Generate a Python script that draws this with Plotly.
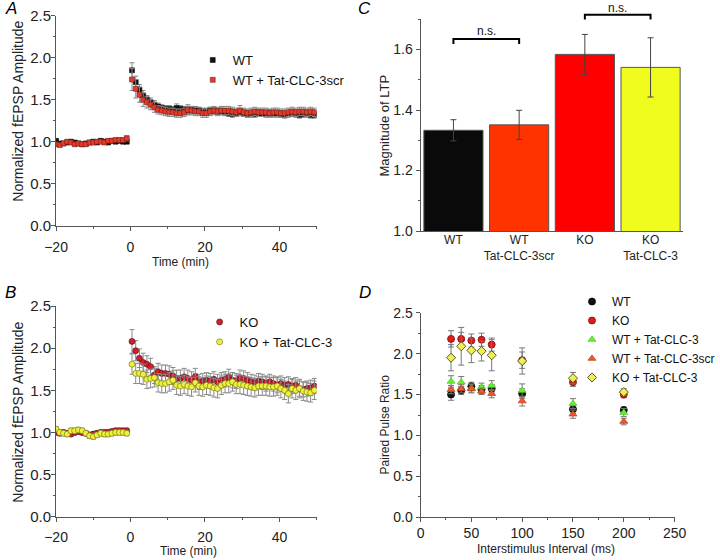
import plotly.graph_objects as go

# ---------------- Panel A / B time base ----------------
time_base = list(range(-20, 0))
time_post = [t + 0.4 for t in range(50)]
time_all = time_base + time_post

# Panel A
wt_base = [1.01, 0.98, 0.98, 0.99, 1.00, 0.99, 0.98, 0.97, 0.98, 0.99,
           1.00, 0.99, 1.01, 1.00, 0.99, 1.01, 1.00, 1.01, 1.00, 1.00]
wt_post = [1.85, 1.71, 1.62, 1.55, 1.50, 1.47, 1.44, 1.42, 1.40, 1.39,
           1.39, 1.38, 1.40, 1.39, 1.38, 1.37, 1.38, 1.38, 1.37, 1.36,
           1.36, 1.37, 1.37, 1.36, 1.36, 1.35, 1.34, 1.33, 1.34, 1.35,
           1.34, 1.33, 1.33, 1.33, 1.34, 1.34, 1.33, 1.34, 1.33, 1.33,
           1.33, 1.32, 1.33, 1.34, 1.33, 1.32, 1.33, 1.33, 1.32, 1.32]
wt_base_err = [0.02, 0.02, 0.02, 0.02, 0.02, 0.02, 0.02, 0.02, 0.02, 0.02,
               0.02, 0.02, 0.02, 0.02, 0.02, 0.02, 0.02, 0.02, 0.02, 0.02]
wt_post_err = [0.09, 0.07, 0.06, 0.06, 0.05, 0.05, 0.05, 0.04, 0.04, 0.04,
               0.04, 0.04, 0.05, 0.04, 0.04, 0.05, 0.04, 0.04, 0.04, 0.04,
               0.04, 0.04, 0.04, 0.04, 0.04, 0.04, 0.04, 0.04, 0.04, 0.04,
               0.04, 0.04, 0.04, 0.04, 0.04, 0.04, 0.04, 0.04, 0.04, 0.04,
               0.04, 0.04, 0.04, 0.04, 0.04, 0.04, 0.04, 0.04, 0.04, 0.04]
scr_base = [0.97, 0.96, 0.98, 1.00, 0.99, 0.97, 0.98, 0.97, 0.97, 0.99,
            0.99, 1.00, 1.00, 0.99, 1.01, 1.01, 1.02, 1.02, 1.02, 1.04]
scr_post = [1.74, 1.63, 1.56, 1.50, 1.47, 1.44, 1.41, 1.38, 1.37, 1.36,
            1.35, 1.35, 1.34, 1.34, 1.35, 1.38, 1.37, 1.36, 1.36, 1.34,
            1.34, 1.36, 1.37, 1.36, 1.37, 1.37, 1.37, 1.36, 1.35, 1.37,
            1.35, 1.34, 1.35, 1.36, 1.35, 1.35, 1.35, 1.34, 1.35, 1.35,
            1.34, 1.34, 1.35, 1.36, 1.35, 1.36, 1.36, 1.35, 1.36, 1.35]
scr_base_err = [0.02, 0.02, 0.02, 0.02, 0.02, 0.02, 0.02, 0.02, 0.02, 0.02,
                0.02, 0.02, 0.02, 0.02, 0.02, 0.02, 0.02, 0.02, 0.02, 0.03]
scr_post_err = [0.13, 0.11, 0.09, 0.08, 0.07, 0.06, 0.06, 0.05, 0.05, 0.05,
                0.05, 0.05, 0.05, 0.05, 0.05, 0.06, 0.05, 0.05, 0.05, 0.05,
                0.05, 0.05, 0.05, 0.05, 0.05, 0.05, 0.05, 0.05, 0.05, 0.06,
                0.05, 0.05, 0.05, 0.05, 0.05, 0.05, 0.05, 0.05, 0.05, 0.05,
                0.05, 0.05, 0.05, 0.05, 0.05, 0.05, 0.05, 0.05, 0.05, 0.05]

# Panel B
ko_base = [1.00, 0.99, 1.00, 0.99, 0.98, 1.00, 1.01, 1.00, 0.99, 0.97,
           0.98, 0.99, 1.00, 1.00, 1.00, 1.01, 1.02, 1.02, 1.02, 1.02]
ko_post = [2.08, 1.97, 1.88, 1.83, 1.81, 1.78, 1.68, 1.72, 1.70, 1.70,
           1.69, 1.67, 1.64, 1.64, 1.66, 1.64, 1.62, 1.66, 1.60, 1.61,
           1.62, 1.61, 1.63, 1.60, 1.62, 1.63, 1.66, 1.62, 1.61, 1.65,
           1.64, 1.62, 1.60, 1.59, 1.61, 1.60, 1.58, 1.60, 1.58, 1.56,
           1.58, 1.56, 1.57, 1.55, 1.56, 1.52, 1.51, 1.52, 1.53, 1.55]
ko_base_err = [0.03, 0.03, 0.03, 0.03, 0.03, 0.03, 0.03, 0.03, 0.03, 0.03,
               0.03, 0.03, 0.03, 0.03, 0.03, 0.03, 0.03, 0.03, 0.03, 0.03]
ko_post_err = [0.14, 0.12, 0.11, 0.11, 0.10, 0.10, 0.10, 0.10, 0.10, 0.10,
               0.10, 0.10, 0.10, 0.10, 0.10, 0.10, 0.10, 0.10, 0.09, 0.09,
               0.09, 0.09, 0.09, 0.09, 0.09, 0.09, 0.09, 0.09, 0.09, 0.09,
               0.09, 0.09, 0.09, 0.09, 0.09, 0.09, 0.09, 0.09, 0.09, 0.09,
               0.09, 0.09, 0.09, 0.09, 0.09, 0.09, 0.09, 0.09, 0.09, 0.09]
tat_base = [1.04, 1.00, 0.99, 0.98, 1.02, 1.02, 1.03, 1.02, 0.99, 0.96,
            0.95, 0.97, 0.99, 0.98, 0.98, 0.99, 1.00, 1.00, 1.00, 0.99]
tat_post = [1.81, 1.70, 1.70, 1.69, 1.63, 1.64, 1.65, 1.59, 1.58, 1.58,
            1.60, 1.62, 1.56, 1.55, 1.57, 1.55, 1.54, 1.59, 1.55, 1.54,
            1.56, 1.55, 1.53, 1.52, 1.56, 1.58, 1.58, 1.60, 1.57, 1.57,
            1.56, 1.55, 1.54, 1.53, 1.55, 1.55, 1.55, 1.54, 1.54, 1.55,
            1.52, 1.50, 1.46, 1.52, 1.50, 1.52, 1.49, 1.48, 1.47, 1.50]
tat_base_err = [0.03, 0.03, 0.03, 0.03, 0.03, 0.03, 0.03, 0.03, 0.03, 0.03,
                0.03, 0.03, 0.03, 0.03, 0.03, 0.03, 0.03, 0.03, 0.03, 0.03]
tat_post_err = [0.12, 0.12, 0.12, 0.12, 0.11, 0.11, 0.11, 0.11, 0.11, 0.11,
                0.11, 0.11, 0.11, 0.11, 0.11, 0.11, 0.11, 0.11, 0.11, 0.11,
                0.11, 0.11, 0.11, 0.11, 0.11, 0.11, 0.11, 0.11, 0.11, 0.11,
                0.11, 0.11, 0.11, 0.11, 0.11, 0.11, 0.11, 0.11, 0.11, 0.11,
                0.11, 0.11, 0.11, 0.11, 0.11, 0.11, 0.11, 0.11, 0.11, 0.11]

# Panel C
ltp_labels = ["WT", "WT<br>Tat-CLC-3scr", "KO", "KO<br>Tat-CLC-3"]
ltp_values = [1.333, 1.351, 1.584, 1.541]
ltp_errors = [0.035, 0.048, 0.066, 0.098]
ltp_colors = ["#0a0a0a", "#ff3300", "#ff0000", "#f0fc1e"]

# Panel D
isi = [30, 40, 50, 60, 70, 100, 150, 200]
ppr_wt = [1.50, 1.55, 1.60, 1.56, 1.57, 1.51, 1.32, 1.31]
ppr_wt_err = [0.07, 0.05, 0.05, 0.05, 0.05, 0.06, 0.05, 0.04]
ppr_ko = [2.18, 2.18, 2.16, 2.17, 2.11, 1.92, 1.65, 1.50]
ppr_ko_err = [0.10, 0.08, 0.08, 0.08, 0.08, 0.10, 0.05, 0.04]
ppr_wt_tat = [1.66, 1.65, 1.58, 1.59, 1.61, 1.55, 1.39, 1.28]
ppr_wt_tat_err = [0.07, 0.07, 0.05, 0.05, 0.06, 0.08, 0.06, 0.05]
ppr_wt_scr = [1.56, 1.57, 1.57, 1.54, 1.51, 1.42, 1.26, 1.17]
ppr_wt_scr_err = [0.05, 0.05, 0.05, 0.04, 0.05, 0.06, 0.05, 0.04]
ppr_ko_tat = [1.95, 2.09, 2.04, 2.03, 1.98, 1.91, 1.70, 1.53]
ppr_ko_tat_err = [0.16, 0.23, 0.15, 0.12, 0.19, 0.16, 0.07, 0.04]

FONT = "Liberation Sans, Arial, Helvetica, sans-serif"
AX = "#555555"
ERR = "#8a8a8a"
TXT = "#222222"
W, H = 720, 560

fig = go.Figure()


def err(vals, color=ERR, width=2.5):
    return dict(type="data", array=vals, visible=True, color=color,
                thickness=1, width=width)


# Panel A traces
fig.add_trace(go.Scatter(
    x=time_all, y=wt_base + wt_post, mode="markers", name="WT",
    marker=dict(symbol="square", size=5, color="#111111",
                line=dict(color="#000000", width=0.5)),
    error_y=err(wt_base_err + wt_post_err), xaxis="x", yaxis="y",
    legend="legend"))
fig.add_trace(go.Scatter(
    x=time_all, y=scr_base + scr_post, mode="markers", name="WT + Tat-CLC-3scr",
    marker=dict(symbol="square", size=5, color="#e5392b",
                line=dict(color="#5a1a10", width=0.5)),
    error_y=err(scr_base_err + scr_post_err), xaxis="x", yaxis="y",
    legend="legend"))

# Panel B traces
fig.add_trace(go.Scatter(
    x=time_all, y=ko_base + ko_post, mode="markers", name="KO",
    marker=dict(symbol="circle", size=6, color="#d21f2e",
                line=dict(color="#4a0a10", width=0.6)),
    error_y=err(ko_base_err + ko_post_err), xaxis="x3", yaxis="y3",
    legend="legend2"))
fig.add_trace(go.Scatter(
    x=time_all, y=tat_base + tat_post, mode="markers", name="KO + Tat-CLC-3",
    marker=dict(symbol="circle", size=6, color="#eef03c",
                line=dict(color="#6a6a10", width=0.6)),
    error_y=err(tat_base_err + tat_post_err), xaxis="x3", yaxis="y3",
    legend="legend2"))

# Panel C bars
fig.add_trace(go.Bar(
    x=list(range(len(ltp_values))), y=ltp_values, width=0.9,
    marker=dict(color=ltp_colors, line=dict(color="#555555", width=1)),
    error_y=dict(type="data", array=ltp_errors, visible=True, color="#444444",
                 thickness=1, width=3),
    xaxis="x2", yaxis="y2", showlegend=False))

# Panel D traces
d_series = [
    ("WT", ppr_wt, ppr_wt_err, "circle", "#111111", "#000000"),
    ("KO", ppr_ko, ppr_ko_err, "circle", "#e01b1b", "#7a0a0a"),
    ("WT + Tat-CLC-3", ppr_wt_tat, ppr_wt_tat_err, "triangle-up", "#66ee33", "#55cc22"),
    ("WT + Tat-CLC-3scr", ppr_wt_scr, ppr_wt_scr_err, "triangle-up", "#ec5a2c", "#c8401a"),
    ("KO + Tat-CLC-3", ppr_ko_tat, ppr_ko_tat_err, "diamond", "#eeee55", "#333300"),
]
for name, vals, errs, sym, col, lcol in d_series:
    fig.add_trace(go.Scatter(
        x=isi, y=vals, mode="markers", name=name,
        marker=dict(symbol=sym, size=7, color=col, line=dict(color=lcol, width=0.8)),
        error_y=err(errs, color="#777777", width=3), xaxis="x4", yaxis="y4",
        legend="legend3"))


def axis(domain, rng, dtick, minor_dtick, anchor, tsize=14, **kw):
    d = dict(domain=domain, range=rng, dtick=dtick, tick0=0, automargin=False,
             showline=True, linecolor=AX, linewidth=1, ticks="outside",
             ticklen=4, tickcolor=AX, tickwidth=1, showgrid=False,
             zeroline=False, anchor=anchor, title=dict(text=""),
             tickfont=dict(family=FONT, size=tsize, color=TXT))
    if minor_dtick:
        d["minor"] = dict(dtick=minor_dtick, ticks="outside", ticklen=2,
                          tickcolor=AX, showgrid=False)
    d.update(kw)
    return d


xA = [57 / W, 322 / W]
yA = [1 - 225.7 / H, 1 - 15.7 / H]
yB = [1 - 516.7 / H, 1 - 306 / H]
xC = [427.7 / W, 695 / W]
yC = [1 - 231 / H, 1 - 19.3 / H]
xD = [427.7 / W, 686 / W]
yD = [1 - 517.3 / H, 1 - 312.7 / H]

fig.update_layout(
    template="none",
    width=W, height=H, margin=dict(l=0, r=0, t=0, b=0, pad=0),
    paper_bgcolor="white", plot_bgcolor="white",
    font=dict(family=FONT, size=12, color=TXT),
    xaxis=axis(xA, [-20, 50], 20, 10, "y", tsize=14, tick0=-20, ticklabelstandoff=4),
    yaxis=axis(yA, [0, 2.5], 0.5, 0.25, "x", tsize=15, tickformat=".1f",
               ticklabelstandoff=-3),
    xaxis3=axis(xA, [-20, 50], 20, 10, "y3", tsize=14, tick0=-20, ticklabelstandoff=3),
    yaxis3=axis(yB, [0, 2.5], 0.5, 0.25, "x3", tsize=15, tickformat=".1f",
                ticklabelstandoff=-3),
    xaxis2=axis(xC, [-0.5, 3.5], None, None, "y2", tsize=12, tickmode="array",
                tickvals=list(range(len(ltp_labels))), ticktext=ltp_labels,
                ticks="", ticklabelstandoff=-2),
    yaxis2=axis(yC, [1.0, 1.7], 0.2, 0.1, "x2", tsize=14, tick0=1.0,
                tickformat=".1f"),
    xaxis4=axis(xD, [0, 250], 50, 25, "y4", tsize=14, ticklabelstandoff=-1),
    yaxis4=axis(yD, [0, 2.5], 0.5, 0.25, "x4", tsize=14, tickformat=".1f"),
    showlegend=True,
    legend=dict(x=196 / W, y=1 - 45 / H, xanchor="left", yanchor="top",
                bgcolor="rgba(0,0,0,0)", borderwidth=0,
                font=dict(family=FONT, size=13, color="#111111")),
    legend2=dict(x=203 / W, y=1 - 307 / H, xanchor="left", yanchor="top",
                 bgcolor="rgba(0,0,0,0)", borderwidth=0,
                 font=dict(family=FONT, size=13, color="#111111")),
    legend3=dict(x=582 / W, y=1 - 287 / H, xanchor="left", yanchor="top",
                 bgcolor="rgba(0,0,0,0)", borderwidth=0,
                 font=dict(family=FONT, size=12, color="#111111")),
)

# axis titles as text
titles = [
    ("Time (min)", 184, 262, 0, 12),
    ("Time (min)", 192, 551, 0, 12),
    ("Interstimulus Interval (ms)", 555, 549, 0, 12),
    ("Normalized fEPSP Amplitude", 18, 111, -90, 14),
    ("Normalized fEPSP Amplitude", 18, 412, -90, 14),
    ("Magnitude of LTP", 392, 125, -90, 13),
    ("Paired Pulse Ratio", 392, 424, -90, 12),
]
for text, px, py, ang, fs in titles:
    fig.add_annotation(x=px / W, y=1 - py / H, xref="paper", yref="paper",
                       text=text, showarrow=False, textangle=ang,
                       xanchor="center", yanchor="middle",
                       font=dict(family=FONT, size=fs, color=TXT))

# significance brackets in panel C
brackets = [(0, 1, 39, 44, 39, "bottom"),
            (2, 3, 14.7, 19.5, 0, "top")]
for x0, x1, ytop, ybot, ytext, anchor in brackets:
    yt, yb = 1 - ytop / H, 1 - ybot / H
    fig.add_shape(type="path", xref="x2", yref="paper",
                  path=f"M {x0} {yb} L {x0} {yt} L {x1} {yt} L {x1} {yb}",
                  line=dict(color="#000000", width=2))
    fig.add_annotation(x=(x0 + x1) / 2, y=1 - ytext / H, xref="x2", yref="paper",
                       text="n.s.", showarrow=False, yanchor=anchor, borderpad=0,
                       font=dict(family=FONT, size=12, color="#111111"))

for letter, px, py in [("A", 11, 9), ("C", 371, 9), ("B", 11, 292), ("D", 371, 292)]:
    fig.add_annotation(x=px / W, y=1 - py / H, xref="paper", yref="paper",
                       text=f"<i>{letter}</i>", showarrow=False,
                       xanchor="center", yanchor="middle",
                       font=dict(family=FONT, size=17, color="#000000"))

fig.write_html("out.html",
               config={"displayModeBar": False},
               post_script="document.body.style.margin='0';"
                           "document.body.style.overflow='hidden';")
